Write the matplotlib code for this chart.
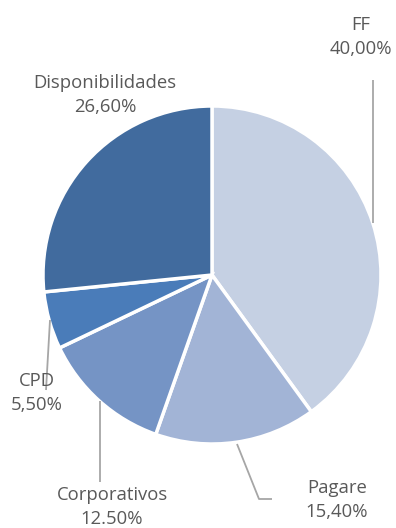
import matplotlib
matplotlib.use("Agg")
import matplotlib.pyplot as plt

# portfolio composition
categories = ["FF", "Pagare", "Corporativos", "CPD", "Disponibilidades"]
shares = [40.00, 15.40, 12.50, 5.50, 26.60]
share_labels = ["40,00%", "15,40%", "12.50%", "5,50%", "26,60%"]
colors = ["#c5d0e3", "#a2b4d6", "#7594c5", "#4a7cb9", "#416b9e"]

W, H = 396, 528
fig = plt.figure(figsize=(W / 100, H / 100), dpi=100)
ax = fig.add_axes([0, 0, 1, 1])

cx, cy, r = 212, H - 275, 169
ax.pie(shares, colors=colors, startangle=90, counterclock=False,
       center=(cx, cy), radius=r, frame=True,
       wedgeprops=dict(edgecolor="white", linewidth=2.5))
ax.set_xlim(0, W)
ax.set_ylim(0, H)
ax.set_aspect("equal")
ax.axis("off")

text_kw = dict(ha="center", va="center", color="#595959", fontsize=13.3,
               family="Open Sans", linespacing=1.4)
line_kw = dict(color="#a6a6a6", linewidth=1.3, solid_capstyle="butt")

# label positions (pixels from top-left) and leader lines
label_pos = {
    "FF": (361, 37),
    "Pagare": (337, 500),
    "Corporativos": (112, 507),
    "CPD": (37, 393),
    "Disponibilidades": (105, 95),
}
leaders = {
    "FF": [(373, 80), (373, 223)],
    "Pagare": [(237, 444), (259, 499), (272, 499)],
    "Corporativos": [(100, 401), (100, 482)],
    "CPD": [(50, 320), (46, 390)],
}

for name, val in zip(categories, share_labels):
    x, y = label_pos[name]
    ax.text(x, H - y, f"{name}\n{val}", **text_kw)
    if name in leaders:
        pts = leaders[name]
        ax.plot([p[0] for p in pts], [H - p[1] for p in pts], **line_kw)

fig.savefig("out.png", dpi=100, facecolor="white")
